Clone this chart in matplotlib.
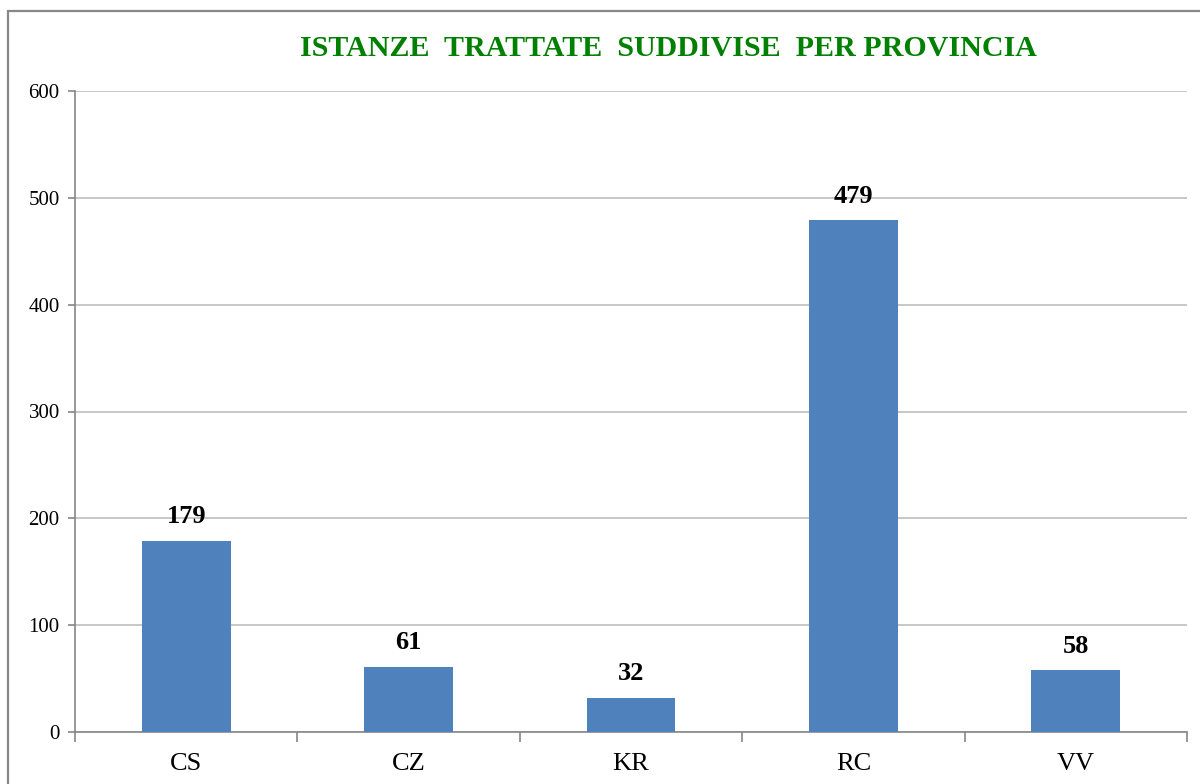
import numpy as np
import matplotlib
matplotlib.use("Agg")
import matplotlib.pyplot as plt
from matplotlib.patches import Rectangle

# data
province = ["CS", "CZ", "KR", "RC", "VV"]
istanze = [179, 61, 32, 479, 58]
titolo = "ISTANZE  TRATTATE  SUDDIVISE  PER PROVINCIA"

plt.rcParams['font.family'] = ['Liberation Serif', 'DejaVu Serif']

fig = plt.figure(figsize=(12, 7.84), dpi=100)
ax = fig.add_axes([75/1200, 1 - 732/784, (1187 - 75)/1200, (732 - 91)/784])

x = np.arange(len(province))
bars = ax.bar(x, istanze, width=0.4, color="#4F81BD", zorder=3)

# value labels above bars
for b, v in zip(bars, istanze):
    ax.annotate(str(v), (b.get_x() + b.get_width()/2, v), xytext=(0, 9),
                textcoords="offset points", ha="center", va="bottom",
                fontsize=19, fontweight="bold", color="black")

ax.set_xlim(-0.5, len(province) - 0.5)
ax.set_ylim(0, 600)
ax.set_yticks(np.arange(0, 601, 100))
ax.grid(axis="y", color="#BEBEBE", linewidth=1.2, zorder=0)

ax.set_xticks(x)
ax.set_xticklabels(province, fontsize=19)
ax.set_xticks(np.arange(-0.5, len(province)), minor=True)
ax.tick_params(axis="x", which="major", length=0, pad=15)
ax.tick_params(axis="x", which="minor", length=7, width=1.2, color="#868686", direction="out")
ax.tick_params(axis="y", length=5, width=1.2, color="#868686", labelsize=15, pad=6)

for s in ["top", "right"]:
    ax.spines[s].set_visible(False)
for s in ["left", "bottom"]:
    ax.spines[s].set_color("#868686")
    ax.spines[s].set_linewidth(1.2)

fig.text(668/1200, 1 - 56/784, titolo, ha="center", va="baseline",
         fontsize=21.6, fontweight="bold", color="#008000")

# outer chart frame (cut off on right and bottom)
fig.patches.append(Rectangle((8/1200, -0.1), 1.2, 0.1 + 1 - 11/784,
                             transform=fig.transFigure, fill=False,
                             edgecolor="#878787", linewidth=1.6))

fig.savefig("out.png", dpi=100)
